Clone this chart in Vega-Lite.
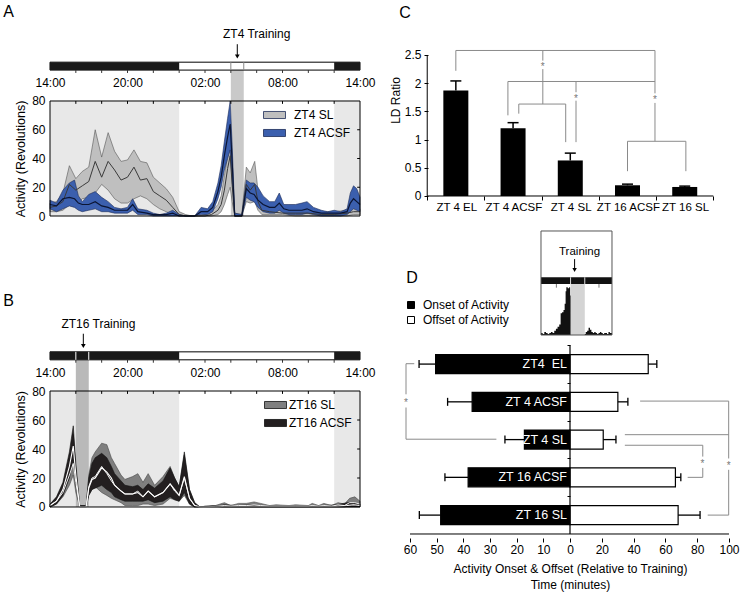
{
"$schema": "https://vega.github.io/schema/vega-lite/v6.json",
"width": 745, "height": 597, "padding": 0,
"autosize": {"type": "none"},
"config": {
 "font": "Liberation Sans",
 "view": {"stroke": null},
 "axis": {"labelFont": "Liberation Sans", "titleFont": "Liberation Sans", "labelFontSize": 12, "titleFontSize": 12.5, "titleFontWeight": "normal", "labelColor": "#000", "titleColor": "#000", "domainColor": "#000", "tickColor": "#000", "grid": false, "labelOverlap": false, "labelBound": false, "labelFlush": false, "domain": false},
 "legend": {"labelFont": "Liberation Sans", "labelFontSize": 12, "labelColor": "#000"}
},
"datasets": {
 "a_dark": [{"start": 0, "end": 10}, {"start": 22, "end": 24}],
 "a_train": [{"start": 14, "end": 15}],
 "b_train": [{"start": 2, "end": 3}],
 "hours": [{"h":2},{"h":4},{"h":6},{"h":8},{"h":10},{"h":12},{"h":14},{"h":16},{"h":18},{"h":20},{"h":22}],
 "levels": [{"v":20},{"v":40},{"v":60}],
 "a_series": [
  {"t":0,"s":"ZT4 SL","lo":3,"m":6,"hi":9},{"t":0.5,"s":"ZT4 SL","lo":3,"m":7,"hi":10},{"t":1,"s":"ZT4 SL","lo":4,"m":10,"hi":16},{"t":1.5,"s":"ZT4 SL","lo":8,"m":22,"hi":35},{"t":2,"s":"ZT4 SL","lo":8,"m":18,"hi":26},{"t":2.5,"s":"ZT4 SL","lo":12,"m":21,"hi":31},{"t":3,"s":"ZT4 SL","lo":13,"m":24,"hi":34},{"t":3.5,"s":"ZT4 SL","lo":16,"m":38,"hi":60},{"t":4,"s":"ZT4 SL","lo":22,"m":27,"hi":41},{"t":4.5,"s":"ZT4 SL","lo":18,"m":38,"hi":58},{"t":5,"s":"ZT4 SL","lo":12,"m":32,"hi":45},{"t":5.5,"s":"ZT4 SL","lo":9,"m":25,"hi":38},{"t":6,"s":"ZT4 SL","lo":9,"m":27,"hi":39},{"t":6.5,"s":"ZT4 SL","lo":12,"m":34,"hi":46},{"t":7,"s":"ZT4 SL","lo":14,"m":25,"hi":38},{"t":7.5,"s":"ZT4 SL","lo":12,"m":26,"hi":37},{"t":8,"s":"ZT4 SL","lo":8,"m":17,"hi":27},{"t":8.5,"s":"ZT4 SL","lo":5,"m":14,"hi":23},{"t":9,"s":"ZT4 SL","lo":3,"m":11,"hi":19},{"t":9.5,"s":"ZT4 SL","lo":1,"m":6,"hi":13},{"t":10,"s":"ZT4 SL","lo":0,"m":1,"hi":3},{"t":10.5,"s":"ZT4 SL","lo":0,"m":0,"hi":1},{"t":11,"s":"ZT4 SL","lo":0,"m":0,"hi":0},{"t":11.5,"s":"ZT4 SL","lo":0,"m":0,"hi":0},{"t":12,"s":"ZT4 SL","lo":0,"m":0,"hi":1},{"t":12.5,"s":"ZT4 SL","lo":0,"m":1,"hi":3},{"t":13,"s":"ZT4 SL","lo":1,"m":4,"hi":8},{"t":13.25,"s":"ZT4 SL","lo":3,"m":8,"hi":14},{"t":13.5,"s":"ZT4 SL","lo":8,"m":18,"hi":28},{"t":13.75,"s":"ZT4 SL","lo":15,"m":33,"hi":42},{"t":13.95,"s":"ZT4 SL","lo":20,"m":42,"hi":47},{"t":14.1,"s":"ZT4 SL","lo":10,"m":22,"hi":32},{"t":14.3,"s":"ZT4 SL","lo":0,"m":0,"hi":2},{"t":14.85,"s":"ZT4 SL","lo":0,"m":0,"hi":1},{"t":15.2,"s":"ZT4 SL","lo":10,"m":22,"hi":34},{"t":15.5,"s":"ZT4 SL","lo":9,"m":18,"hi":30},{"t":15.85,"s":"ZT4 SL","lo":10,"m":22,"hi":38},{"t":16.1,"s":"ZT4 SL","lo":4,"m":10,"hi":18},{"t":16.4,"s":"ZT4 SL","lo":1,"m":4,"hi":8},{"t":17,"s":"ZT4 SL","lo":1,"m":3,"hi":5},{"t":18,"s":"ZT4 SL","lo":1,"m":2,"hi":4},{"t":19,"s":"ZT4 SL","lo":0,"m":2,"hi":4},{"t":20,"s":"ZT4 SL","lo":0,"m":2,"hi":3},{"t":21,"s":"ZT4 SL","lo":0,"m":1,"hi":3},{"t":22,"s":"ZT4 SL","lo":0,"m":1,"hi":3},{"t":23,"s":"ZT4 SL","lo":0,"m":2,"hi":4},{"t":23.5,"s":"ZT4 SL","lo":1,"m":3,"hi":6},{"t":24,"s":"ZT4 SL","lo":1,"m":3,"hi":5},
  {"t":0,"s":"ZT4 ACSF","lo":5,"m":8,"hi":11},{"t":0.5,"s":"ZT4 ACSF","lo":3,"m":7,"hi":9},{"t":1,"s":"ZT4 ACSF","lo":5,"m":12,"hi":18},{"t":1.5,"s":"ZT4 ACSF","lo":7,"m":13,"hi":23},{"t":1.9,"s":"ZT4 ACSF","lo":6,"m":12,"hi":25},{"t":2.2,"s":"ZT4 ACSF","lo":4,"m":9,"hi":14},{"t":2.5,"s":"ZT4 ACSF","lo":3,"m":8,"hi":10},{"t":3,"s":"ZT4 ACSF","lo":4,"m":8,"hi":15},{"t":3.5,"s":"ZT4 ACSF","lo":5,"m":10,"hi":17},{"t":4,"s":"ZT4 ACSF","lo":3,"m":7,"hi":13},{"t":4.5,"s":"ZT4 ACSF","lo":3,"m":6,"hi":10},{"t":5,"s":"ZT4 ACSF","lo":2,"m":4,"hi":6},{"t":5.5,"s":"ZT4 ACSF","lo":2,"m":4,"hi":5},{"t":6,"s":"ZT4 ACSF","lo":2,"m":4,"hi":6},{"t":6.4,"s":"ZT4 ACSF","lo":4,"m":8,"hi":12},{"t":6.8,"s":"ZT4 ACSF","lo":1,"m":3,"hi":5},{"t":7.5,"s":"ZT4 ACSF","lo":1,"m":2,"hi":4},{"t":8,"s":"ZT4 ACSF","lo":0,"m":1,"hi":2},{"t":8.5,"s":"ZT4 ACSF","lo":0,"m":1,"hi":1},{"t":9,"s":"ZT4 ACSF","lo":0,"m":1,"hi":2},{"t":9.5,"s":"ZT4 ACSF","lo":0,"m":2,"hi":4},{"t":10,"s":"ZT4 ACSF","lo":0,"m":0,"hi":1},{"t":10.5,"s":"ZT4 ACSF","lo":0,"m":0,"hi":0},{"t":11.2,"s":"ZT4 ACSF","lo":0,"m":0,"hi":0},{"t":11.7,"s":"ZT4 ACSF","lo":1,"m":3,"hi":6},{"t":12.2,"s":"ZT4 ACSF","lo":1,"m":3,"hi":5},{"t":12.6,"s":"ZT4 ACSF","lo":3,"m":6,"hi":10},{"t":13,"s":"ZT4 ACSF","lo":12,"m":17,"hi":23},{"t":13.25,"s":"ZT4 ACSF","lo":20,"m":27,"hi":35},{"t":13.5,"s":"ZT4 ACSF","lo":32,"m":42,"hi":52},{"t":13.75,"s":"ZT4 ACSF","lo":40,"m":55,"hi":68},{"t":13.95,"s":"ZT4 ACSF","lo":46,"m":64,"hi":80},{"t":14.1,"s":"ZT4 ACSF","lo":25,"m":38,"hi":50},{"t":14.3,"s":"ZT4 ACSF","lo":0,"m":0,"hi":2},{"t":14.85,"s":"ZT4 ACSF","lo":0,"m":0,"hi":1},{"t":15.2,"s":"ZT4 ACSF","lo":13,"m":19,"hi":25},{"t":15.5,"s":"ZT4 ACSF","lo":11,"m":16,"hi":23},{"t":15.8,"s":"ZT4 ACSF","lo":10,"m":15,"hi":23},{"t":16.1,"s":"ZT4 ACSF","lo":6,"m":11,"hi":20},{"t":16.5,"s":"ZT4 ACSF","lo":3,"m":8,"hi":14},{"t":17,"s":"ZT4 ACSF","lo":2,"m":6,"hi":10},{"t":17.4,"s":"ZT4 ACSF","lo":2,"m":6,"hi":10},{"t":17.75,"s":"ZT4 ACSF","lo":4,"m":9,"hi":16},{"t":18.1,"s":"ZT4 ACSF","lo":2,"m":5,"hi":8},{"t":18.5,"s":"ZT4 ACSF","lo":1,"m":4,"hi":8},{"t":19,"s":"ZT4 ACSF","lo":1,"m":4,"hi":8},{"t":19.5,"s":"ZT4 ACSF","lo":1,"m":4,"hi":9},{"t":19.9,"s":"ZT4 ACSF","lo":2,"m":5,"hi":10},{"t":20.4,"s":"ZT4 ACSF","lo":1,"m":3,"hi":6},{"t":21,"s":"ZT4 ACSF","lo":0,"m":2,"hi":4},{"t":21.5,"s":"ZT4 ACSF","lo":0,"m":2,"hi":3},{"t":22,"s":"ZT4 ACSF","lo":0,"m":2,"hi":4},{"t":22.5,"s":"ZT4 ACSF","lo":0,"m":2,"hi":3},{"t":23,"s":"ZT4 ACSF","lo":1,"m":3,"hi":5},{"t":23.25,"s":"ZT4 ACSF","lo":3,"m":9,"hi":16},{"t":23.5,"s":"ZT4 ACSF","lo":5,"m":12,"hi":21},{"t":23.75,"s":"ZT4 ACSF","lo":4,"m":10,"hi":19},{"t":24,"s":"ZT4 ACSF","lo":3,"m":8,"hi":13}
 ],
 "b_series": [
  {"t":0,"s":"ZT16 SL","lo":0,"m":1,"hi":2},{"t":0.5,"s":"ZT16 SL","lo":2,"m":4,"hi":6},{"t":1,"s":"ZT16 SL","lo":7,"m":10,"hi":15},{"t":1.5,"s":"ZT16 SL","lo":15,"m":22,"hi":32},{"t":1.8,"s":"ZT16 SL","lo":22,"m":30,"hi":50},{"t":2,"s":"ZT16 SL","lo":10,"m":17,"hi":26},{"t":2.3,"s":"ZT16 SL","lo":0,"m":0,"hi":1},{"t":2.8,"s":"ZT16 SL","lo":0,"m":0,"hi":1},{"t":3,"s":"ZT16 SL","lo":8,"m":14,"hi":22},{"t":3.25,"s":"ZT16 SL","lo":12,"m":20,"hi":34},{"t":3.5,"s":"ZT16 SL","lo":14,"m":21,"hi":38},{"t":4,"s":"ZT16 SL","lo":10,"m":28,"hi":44},{"t":4.4,"s":"ZT16 SL","lo":8,"m":23,"hi":43},{"t":4.75,"s":"ZT16 SL","lo":6,"m":18,"hi":34},{"t":5,"s":"ZT16 SL","lo":5,"m":15,"hi":30},{"t":5.5,"s":"ZT16 SL","lo":3,"m":11,"hi":22},{"t":5.8,"s":"ZT16 SL","lo":1,"m":9,"hi":19},{"t":6.4,"s":"ZT16 SL","lo":1,"m":9,"hi":21},{"t":6.8,"s":"ZT16 SL","lo":1,"m":11,"hi":23},{"t":7.2,"s":"ZT16 SL","lo":2,"m":7,"hi":17},{"t":7.6,"s":"ZT16 SL","lo":2,"m":11,"hi":23},{"t":8.1,"s":"ZT16 SL","lo":1,"m":7,"hi":15},{"t":8.75,"s":"ZT16 SL","lo":2,"m":10,"hi":21},{"t":9.3,"s":"ZT16 SL","lo":6,"m":16,"hi":28},{"t":9.65,"s":"ZT16 SL","lo":5,"m":11,"hi":20},{"t":10,"s":"ZT16 SL","lo":4,"m":8,"hi":14},{"t":10.4,"s":"ZT16 SL","lo":8,"m":20,"hi":36},{"t":10.8,"s":"ZT16 SL","lo":2,"m":6,"hi":12},{"t":11.2,"s":"ZT16 SL","lo":0,"m":1,"hi":3},{"t":11.6,"s":"ZT16 SL","lo":0,"m":0,"hi":0},{"t":12,"s":"ZT16 SL","lo":0,"m":0,"hi":0.5},{"t":12.8,"s":"ZT16 SL","lo":0,"m":0.5,"hi":1},{"t":13.5,"s":"ZT16 SL","lo":0,"m":1,"hi":3},{"t":14,"s":"ZT16 SL","lo":0,"m":0.5,"hi":1},{"t":14.6,"s":"ZT16 SL","lo":0,"m":1,"hi":2.5},{"t":15.2,"s":"ZT16 SL","lo":0,"m":1,"hi":2.5},{"t":15.8,"s":"ZT16 SL","lo":0,"m":1.5,"hi":3.5},{"t":16.3,"s":"ZT16 SL","lo":0,"m":1,"hi":2.5},{"t":17,"s":"ZT16 SL","lo":0,"m":0.5,"hi":1},{"t":17.5,"s":"ZT16 SL","lo":0,"m":0.5,"hi":1.5},{"t":18.5,"s":"ZT16 SL","lo":0,"m":0.5,"hi":1},{"t":19,"s":"ZT16 SL","lo":0,"m":0.5,"hi":1.5},{"t":20,"s":"ZT16 SL","lo":0,"m":0.5,"hi":1},{"t":20.3,"s":"ZT16 SL","lo":0,"m":1,"hi":2.5},{"t":20.8,"s":"ZT16 SL","lo":0,"m":0.5,"hi":1},{"t":21.2,"s":"ZT16 SL","lo":0,"m":1,"hi":2.5},{"t":21.8,"s":"ZT16 SL","lo":0,"m":0.5,"hi":1},{"t":22.3,"s":"ZT16 SL","lo":0,"m":1.5,"hi":3},{"t":22.8,"s":"ZT16 SL","lo":0,"m":1,"hi":2},{"t":23.2,"s":"ZT16 SL","lo":1,"m":3,"hi":6},{"t":23.6,"s":"ZT16 SL","lo":1,"m":3,"hi":7},{"t":24,"s":"ZT16 SL","lo":1,"m":2,"hi":4},
  {"t":0,"s":"ZT16 ACSF","lo":0,"m":1,"hi":2},{"t":0.5,"s":"ZT16 ACSF","lo":2,"m":4,"hi":7},{"t":1,"s":"ZT16 ACSF","lo":8,"m":12,"hi":17},{"t":1.5,"s":"ZT16 ACSF","lo":20,"m":28,"hi":38},{"t":1.8,"s":"ZT16 ACSF","lo":33,"m":42,"hi":56},{"t":2,"s":"ZT16 ACSF","lo":15,"m":22,"hi":30},{"t":2.3,"s":"ZT16 ACSF","lo":0,"m":0,"hi":1},{"t":2.8,"s":"ZT16 ACSF","lo":0,"m":0,"hi":1},{"t":3,"s":"ZT16 ACSF","lo":8,"m":13,"hi":20},{"t":3.25,"s":"ZT16 ACSF","lo":12,"m":19,"hi":30},{"t":3.5,"s":"ZT16 ACSF","lo":13,"m":20,"hi":34},{"t":4,"s":"ZT16 ACSF","lo":15,"m":27,"hi":37},{"t":4.4,"s":"ZT16 ACSF","lo":12,"m":24,"hi":34},{"t":4.75,"s":"ZT16 ACSF","lo":10,"m":20,"hi":28},{"t":5,"s":"ZT16 ACSF","lo":7,"m":15,"hi":23},{"t":5.5,"s":"ZT16 ACSF","lo":5,"m":11,"hi":18},{"t":5.8,"s":"ZT16 ACSF","lo":4,"m":9,"hi":15},{"t":6.4,"s":"ZT16 ACSF","lo":4,"m":9,"hi":14},{"t":6.8,"s":"ZT16 ACSF","lo":4,"m":10,"hi":15},{"t":7.2,"s":"ZT16 ACSF","lo":4,"m":7,"hi":12},{"t":7.6,"s":"ZT16 ACSF","lo":5,"m":11,"hi":16},{"t":8.1,"s":"ZT16 ACSF","lo":3,"m":7,"hi":13},{"t":8.75,"s":"ZT16 ACSF","lo":4,"m":10,"hi":18},{"t":9.3,"s":"ZT16 ACSF","lo":7,"m":16,"hi":27},{"t":9.65,"s":"ZT16 ACSF","lo":5,"m":12,"hi":20},{"t":10,"s":"ZT16 ACSF","lo":4,"m":8,"hi":14},{"t":10.4,"s":"ZT16 ACSF","lo":10,"m":21,"hi":38},{"t":10.8,"s":"ZT16 ACSF","lo":2,"m":6,"hi":12},{"t":11.2,"s":"ZT16 ACSF","lo":0,"m":1,"hi":3},{"t":11.6,"s":"ZT16 ACSF","lo":0,"m":0,"hi":0},{"t":12,"s":"ZT16 ACSF","lo":0,"m":0,"hi":0.5},{"t":13,"s":"ZT16 ACSF","lo":0,"m":0,"hi":1},{"t":13.5,"s":"ZT16 ACSF","lo":0,"m":0.5,"hi":1.5},{"t":14.5,"s":"ZT16 ACSF","lo":0,"m":0.5,"hi":1},{"t":15.5,"s":"ZT16 ACSF","lo":0,"m":0.5,"hi":1.5},{"t":16.5,"s":"ZT16 ACSF","lo":0,"m":0.5,"hi":1},{"t":18,"s":"ZT16 ACSF","lo":0,"m":0.5,"hi":1},{"t":19.5,"s":"ZT16 ACSF","lo":0,"m":0.5,"hi":1},{"t":21,"s":"ZT16 ACSF","lo":0,"m":0.5,"hi":1},{"t":22.2,"s":"ZT16 ACSF","lo":0,"m":0.5,"hi":1.5},{"t":23,"s":"ZT16 ACSF","lo":0,"m":1,"hi":3},{"t":23.5,"s":"ZT16 ACSF","lo":0,"m":1.5,"hi":3},{"t":24,"s":"ZT16 ACSF","lo":0,"m":1,"hi":2}
 ],
 "c_bars": [
  {"pos":1,"group":"ZT 4 EL","mean":1.87,"upper":2.04},
  {"pos":2,"group":"ZT 4 ACSF","mean":1.2,"upper":1.3},
  {"pos":3,"group":"ZT 4 SL","mean":0.63,"upper":0.76},
  {"pos":4,"group":"ZT 16 ACSF","mean":0.19,"upper":0.21},
  {"pos":5,"group":"ZT 16 SL","mean":0.16,"upper":0.175}
 ],
 "c_lines": [
  {"x1":1.0,"x2":1.0,"y1":2.22,"y2":2.58},
  {"x1":1.0,"x2":4.48,"y1":2.58,"y2":2.58},
  {"x1":4.48,"x2":4.48,"y1":2.58,"y2":1.82},
  {"x1":4.48,"x2":4.48,"y1":1.65,"y2":0.97},
  {"x1":2.52,"x2":2.52,"y1":2.58,"y2":2.40},
  {"x1":2.52,"x2":2.52,"y1":2.25,"y2":1.63},
  {"x1":1.91,"x2":4.48,"y1":2.03,"y2":2.03},
  {"x1":1.91,"x2":1.91,"y1":2.03,"y2":1.43},
  {"x1":3.10,"x2":3.10,"y1":2.03,"y2":1.84},
  {"x1":3.10,"x2":3.10,"y1":1.69,"y2":0.955},
  {"x1":2.10,"x2":2.92,"y1":1.63,"y2":1.63},
  {"x1":2.10,"x2":2.10,"y1":1.63,"y2":1.46},
  {"x1":2.92,"x2":2.92,"y1":1.63,"y2":0.955},
  {"x1":4.0,"x2":5.02,"y1":0.97,"y2":0.97},
  {"x1":4.0,"x2":4.0,"y1":0.97,"y2":0.44},
  {"x1":5.02,"x2":5.02,"y1":0.97,"y2":0.44}
 ],
 "c_stars": [{"x":2.52,"y":2.32},{"x":3.10,"y":1.76},{"x":4.48,"y":1.73}],
 "d_bars": [
  {"row":1,"group":"ZT4\u00a0 EL","kind":"Onset of Activity","value":-50.4,"err":-56.6},
  {"row":1,"group":"ZT4\u00a0 EL","kind":"Offset of Activity","value":49.2,"err":54.6},
  {"row":2,"group":"ZT 4 ACSF","kind":"Onset of Activity","value":-36.7,"err":-45.9},
  {"row":2,"group":"ZT 4 ACSF","kind":"Offset of Activity","value":30.1,"err":36.4},
  {"row":3,"group":"ZT 4 SL","kind":"Onset of Activity","value":-17.1,"err":-24.4},
  {"row":3,"group":"ZT 4 SL","kind":"Offset of Activity","value":20.9,"err":28.9},
  {"row":4,"group":"ZT 16 ACSF","kind":"Onset of Activity","value":-38.2,"err":-46.9},
  {"row":4,"group":"ZT 16 ACSF","kind":"Offset of Activity","value":66.3,"err":69.7},
  {"row":5,"group":"ZT 16 SL","kind":"Onset of Activity","value":-48.5,"err":-56.5},
  {"row":5,"group":"ZT 16 SL","kind":"Offset of Activity","value":68.0,"err":81.8}
 ],
 "d_lines": [
  {"x1":-61.5,"x2":-58.4,"y1":0.99,"y2":0.99},
  {"x1":-61.5,"x2":-61.5,"y1":0.99,"y2":1.8},
  {"x1":-61.5,"x2":-61.5,"y1":2.15,"y2":2.99},
  {"x1":-61.5,"x2":-27.6,"y1":2.99,"y2":2.99},
  {"x1":44.1,"x2":99.8,"y1":1.98,"y2":1.98},
  {"x1":99.8,"x2":99.8,"y1":1.98,"y2":3.5},
  {"x1":99.8,"x2":99.8,"y1":3.8,"y2":5.0},
  {"x1":86.6,"x2":99.8,"y1":5.0,"y2":5.0},
  {"x1":34.5,"x2":99.8,"y1":2.87,"y2":2.87},
  {"x1":34.5,"x2":83.5,"y1":3.15,"y2":3.15},
  {"x1":83.5,"x2":83.5,"y1":3.15,"y2":3.45},
  {"x1":83.5,"x2":83.5,"y1":3.75,"y2":4.0},
  {"x1":74,"x2":83.5,"y1":4.0,"y2":4.0}
 ],
 "d_stars": [{"x":-61.5,"y":1.98},{"x":83.3,"y":3.6},{"x":99.8,"y":3.65}],
 "inset_hist": [{"m":-125,"h":2},{"m":-118,"h":1},{"m":-111,"h":3},{"m":-104,"h":2},{"m":-97,"h":1},{"m":-90,"h":2},{"m":-83,"h":3},{"m":-76,"h":2},{"m":-69,"h":4},{"m":-62,"h":6},{"m":-55,"h":8},{"m":-48,"h":10},{"m":-42,"h":21},{"m":-36,"h":22},{"m":-30,"h":24},{"m":-25,"h":30},{"m":-21,"h":42},{"m":-18,"h":46},{"m":-12,"h":45},{"m":-6,"h":46},{"m":-2,"h":38},{"m":0,"h":0},{"m":60,"h":1},{"m":64,"h":3},{"m":70,"h":4},{"m":76,"h":7},{"m":82,"h":5},{"m":88,"h":3},{"m":94,"h":2},{"m":100,"h":3},{"m":106,"h":2},{"m":112,"h":1},{"m":118,"h":2},{"m":124,"h":3},{"m":130,"h":2},{"m":136,"h":1},{"m":142,"h":2},{"m":148,"h":2},{"m":154,"h":1},{"m":160,"h":3},{"m":166,"h":2},{"m":172,"h":2},{"m":175,"h":1}],
 "inset_train": [{"start":0,"end":60}],
 "inset_ticks": [{"m":-60},{"m":120}]
},
"layer": [
 {"layer": [
  {"data": {"name": "a_dark"}, "mark": {"type": "rect", "fill": "#e8e8e8"},
   "encoding": {"x": {"field": "start", "type": "quantitative", "scale": {"domain": [-3.871, 53.806], "nice": false, "zero": false},
     "axis": {"orient": "top", "offset": -101, "values": [0,6,12,18,24], "labelExpr": "['14:00','20:00','02:00','08:00','14:00'][datum.value / 6]", "ticks": false, "labelPadding": 12, "title": null}},
    "x2": {"field": "end"},
    "y": {"datum": 0, "type": "quantitative", "scale": {"domain": [-265.04, 150.26], "nice": false, "zero": false},
     "axis": {"orient": "left", "offset": -50, "values": [0,20,40,60,80], "title": "Activity (Revolutions)", "ticks": false, "labelPadding": 5, "titleX": -30, "titleY": 158.5, "titleAngle": 270, "titleBaseline": "middle", "titleAlign": "center"}},
    "y2": {"datum": 80}}},
  {"data": {"name": "a_train"}, "mark": {"type": "rect", "fill": "#c9c9c9"},
   "encoding": {"x": {"field": "start", "type": "quantitative"}, "x2": {"field": "end"}, "y": {"datum": 0}, "y2": {"datum": 101.5}}},
  {"data": {"name": "a_series"}, "transform": [{"filter": "datum.s == 'ZT4 SL'"}], "mark": {"type": "area", "stroke": "#555", "strokeWidth": 0.6},
   "encoding": {"x": {"field": "t", "type": "quantitative"}, "y": {"field": "lo", "type": "quantitative"}, "y2": {"field": "hi"},
    "color": {"field": "s", "type": "nominal", "scale": {"domain": ["ZT4 SL", "ZT4 ACSF"], "range": ["#bfbfbf", "#3b5fae"]},
     "legend": {"title": null, "orient": "none", "legendX": 263, "legendY": 103.5, "symbolType": "M-1,-0.32H1V0.32H-1Z", "symbolSize": 484, "labelOffset": 8, "rowPadding": -1, "symbolStrokeColor": "#333", "symbolStrokeWidth": 0.8, "padding": 0, "symbolOpacity": 1}}}},
  {"data": {"name": "a_series"}, "transform": [{"filter": "datum.s == 'ZT4 ACSF'"}], "mark": {"type": "area", "stroke": "#1c2b57", "strokeWidth": 0.6},
   "encoding": {"x": {"field": "t", "type": "quantitative"}, "y": {"field": "lo", "type": "quantitative"}, "y2": {"field": "hi"},
    "color": {"field": "s", "type": "nominal"}}},
  {"data": {"name": "a_series"}, "transform": [{"filter": "datum.s == 'ZT4 SL'"}], "mark": {"type": "line", "color": "#3a3a3a", "strokeWidth": 1},
   "encoding": {"x": {"field": "t", "type": "quantitative"}, "y": {"field": "m", "type": "quantitative"}}},
  {"data": {"name": "a_series"}, "transform": [{"filter": "datum.s == 'ZT4 ACSF'"}], "mark": {"type": "line", "color": "#0b1533", "strokeWidth": 1.2},
   "encoding": {"x": {"field": "t", "type": "quantitative"}, "y": {"field": "m", "type": "quantitative"}}},
  {"data": {"values": [{}]}, "mark": {"type": "rect", "filled": false, "color": "#000", "strokeWidth": 1},
   "encoding": {"x": {"datum": 0}, "x2": {"datum": 24}, "y": {"datum": 0}, "y2": {"datum": 80}}},
  {"data": {"name": "hours"}, "mark": {"type": "rule", "color": "#000", "strokeWidth": 1},
   "encoding": {"x": {"field": "h", "type": "quantitative"}, "y": {"datum": 80}, "y2": {"datum": 78}}},
  {"data": {"name": "levels"}, "mark": {"type": "rule", "color": "#000", "strokeWidth": 1},
   "encoding": {"x": {"datum": 24}, "x2": {"datum": 23.78}, "y": {"field": "v", "type": "quantitative"}}},
  {"data": {"values": [{}]}, "mark": {"type": "rect", "fill": "#fff", "stroke": "#000", "strokeWidth": 1},
   "encoding": {"x": {"datum": 0}, "x2": {"datum": 24}, "y": {"datum": 101.5}, "y2": {"datum": 107}}},
  {"data": {"name": "a_dark"}, "mark": {"type": "rect", "fill": "#1a1a1a"},
   "encoding": {"x": {"field": "start", "type": "quantitative"}, "x2": {"field": "end"}, "y": {"datum": 101.5}, "y2": {"datum": 107}}},
  {"data": {"name": "hours"}, "mark": {"type": "rule", "color": "#333", "strokeWidth": 1},
   "encoding": {"x": {"field": "h", "type": "quantitative"}, "y": {"datum": 101.5}, "y2": {"datum": 99.5}}},
  {"data": {"name": "a_train"}, "mark": {"type": "rule", "color": "#888", "strokeWidth": 1},
   "encoding": {"x": {"field": "start", "type": "quantitative"}, "y": {"datum": 101.5}, "y2": {"datum": 107}}},
  {"data": {"name": "a_train"}, "mark": {"type": "rule", "color": "#888", "strokeWidth": 1},
   "encoding": {"x": {"field": "end", "type": "quantitative"}, "y": {"datum": 101.5}, "y2": {"datum": 107}}},
  {"data": {"values": [{}]}, "mark": {"type": "rule", "color": "#000", "strokeWidth": 1},
   "encoding": {"x": {"datum": 14.5}, "y": {"datum": 119.5}, "y2": {"datum": 111.5}}},
  {"data": {"values": [{}]}, "mark": {"type": "point", "shape": "triangle-down", "filled": true, "color": "#000", "size": 22, "opacity": 1},
   "encoding": {"x": {"datum": 14.5}, "y": {"datum": 111}}},
  {"data": {"values": [{}]}, "mark": {"type": "text", "fontSize": 12, "align": "center", "baseline": "middle", "color": "#000"},
   "encoding": {"x": {"datum": 16.0}, "y": {"datum": 126.3}, "text": {"value": "ZT4 Training"}}},
  {"data": {"values": [{}]}, "mark": {"type": "text", "fontSize": 16, "align": "center", "baseline": "middle", "color": "#000"},
   "encoding": {"x": {"datum": -3.2}, "y": {"datum": 142}, "text": {"value": "A"}}}
 ]},
 {"layer": [
  {"data": {"name": "a_dark"}, "mark": {"type": "rect", "fill": "#e8e8e8"},
   "encoding": {"x": {"field": "start", "type": "quantitative", "scale": {"domain": [-3.871, 53.806], "nice": false, "zero": false},
     "axis": {"orient": "top", "offset": -391, "values": [0,6,12,18,24], "labelExpr": "['14:00','20:00','02:00','08:00','14:00'][datum.value / 6]", "ticks": false, "labelPadding": 12, "title": null}},
    "x2": {"field": "end"},
    "y": {"datum": 0, "type": "quantitative", "scale": {"domain": [-62.07, 349.66], "nice": false, "zero": false},
     "axis": {"orient": "left", "offset": -50, "values": [0,20,40,60,80], "title": "Activity (Revolutions)", "ticks": false, "labelPadding": 5, "titleX": -30, "titleY": 449, "titleAngle": 270, "titleBaseline": "middle", "titleAlign": "center"}},
    "y2": {"datum": 80}}},
  {"data": {"name": "b_train"}, "mark": {"type": "rect", "fill": "#b9b9b9"},
   "encoding": {"x": {"field": "start", "type": "quantitative"}, "x2": {"field": "end"}, "y": {"datum": 0}, "y2": {"datum": 101.5}}},
  {"data": {"name": "b_series"}, "transform": [{"filter": "datum.s == 'ZT16 SL'"}], "mark": {"type": "area", "stroke": "#444", "strokeWidth": 0.6},
   "encoding": {"x": {"field": "t", "type": "quantitative"}, "y": {"field": "lo", "type": "quantitative"}, "y2": {"field": "hi"},
    "color": {"field": "s", "type": "nominal", "scale": {"domain": ["ZT16 SL", "ZT16 ACSF"], "range": ["#7f7f7f", "#231f20"]},
     "legend": {"title": null, "orient": "none", "legendX": 264, "legendY": 393.5, "symbolType": "M-1,-0.32H1V0.32H-1Z", "symbolSize": 484, "labelOffset": 2, "rowPadding": -0.5, "symbolStrokeColor": "#333", "symbolStrokeWidth": 0.8, "padding": 0, "symbolOpacity": 1}}}},
  {"data": {"name": "b_series"}, "transform": [{"filter": "datum.s == 'ZT16 ACSF'"}], "mark": {"type": "area", "stroke": "#111", "strokeWidth": 0.6},
   "encoding": {"x": {"field": "t", "type": "quantitative"}, "y": {"field": "lo", "type": "quantitative"}, "y2": {"field": "hi"},
    "color": {"field": "s", "type": "nominal"}}},
  {"data": {"name": "b_series"}, "transform": [{"filter": "datum.s == 'ZT16 SL'"}], "mark": {"type": "line", "color": "#f0f0f0", "strokeWidth": 1},
   "encoding": {"x": {"field": "t", "type": "quantitative"}, "y": {"field": "m", "type": "quantitative"}}},
  {"data": {"name": "b_series"}, "transform": [{"filter": "datum.s == 'ZT16 ACSF'"}], "mark": {"type": "line", "color": "#ffffff", "strokeWidth": 1.1},
   "encoding": {"x": {"field": "t", "type": "quantitative"}, "y": {"field": "m", "type": "quantitative"}}},
  {"data": {"values": [{}]}, "mark": {"type": "rect", "filled": false, "color": "#000", "strokeWidth": 1},
   "encoding": {"x": {"datum": 0}, "x2": {"datum": 24}, "y": {"datum": 0}, "y2": {"datum": 80}}},
  {"data": {"name": "hours"}, "mark": {"type": "rule", "color": "#000", "strokeWidth": 1},
   "encoding": {"x": {"field": "h", "type": "quantitative"}, "y": {"datum": 80}, "y2": {"datum": 78}}},
  {"data": {"name": "levels"}, "mark": {"type": "rule", "color": "#000", "strokeWidth": 1},
   "encoding": {"x": {"datum": 24}, "x2": {"datum": 23.78}, "y": {"field": "v", "type": "quantitative"}}},
  {"data": {"values": [{}]}, "mark": {"type": "rect", "fill": "#fff", "stroke": "#000", "strokeWidth": 1},
   "encoding": {"x": {"datum": 0}, "x2": {"datum": 24}, "y": {"datum": 101.5}, "y2": {"datum": 107}}},
  {"data": {"name": "a_dark"}, "mark": {"type": "rect", "fill": "#1a1a1a"},
   "encoding": {"x": {"field": "start", "type": "quantitative"}, "x2": {"field": "end"}, "y": {"datum": 101.5}, "y2": {"datum": 107}}},
  {"data": {"name": "hours"}, "mark": {"type": "rule", "color": "#333", "strokeWidth": 1},
   "encoding": {"x": {"field": "h", "type": "quantitative"}, "y": {"datum": 101.5}, "y2": {"datum": 99.5}}},
  {"data": {"name": "b_train"}, "mark": {"type": "rule", "color": "#fff", "strokeWidth": 1},
   "encoding": {"x": {"field": "start", "type": "quantitative"}, "y": {"datum": 101.5}, "y2": {"datum": 107}}},
  {"data": {"name": "b_train"}, "mark": {"type": "rule", "color": "#fff", "strokeWidth": 1},
   "encoding": {"x": {"field": "end", "type": "quantitative"}, "y": {"datum": 101.5}, "y2": {"datum": 107}}},
  {"data": {"values": [{}]}, "mark": {"type": "rule", "color": "#000", "strokeWidth": 1},
   "encoding": {"x": {"datum": 2.58}, "y": {"datum": 119.5}, "y2": {"datum": 111.5}}},
  {"data": {"values": [{}]}, "mark": {"type": "point", "shape": "triangle-down", "filled": true, "color": "#000", "size": 22, "opacity": 1},
   "encoding": {"x": {"datum": 2.58}, "y": {"datum": 111}}},
  {"data": {"values": [{}]}, "mark": {"type": "text", "fontSize": 12, "align": "center", "baseline": "middle", "color": "#000"},
   "encoding": {"x": {"datum": 3.75}, "y": {"datum": 126.3}, "text": {"value": "ZT16 Training"}}},
  {"data": {"values": [{}]}, "mark": {"type": "text", "fontSize": 16, "align": "center", "baseline": "middle", "color": "#000"},
   "encoding": {"x": {"datum": -3.2}, "y": {"datum": 142}, "text": {"value": "B"}}}
 ]},
 {"layer": [
  {"data": {"name": "c_bars"}, "mark": {"type": "bar", "orient": "vertical", "width": 25, "color": "#000"},
   "encoding": {"x": {"field": "pos", "type": "quantitative", "scale": {"domain": [-6.879, 5.966], "nice": false, "zero": false},
     "axis": {"orient": "bottom", "offset": -401, "values": [0.5,1.5,2.5,3.5,4.5,5.5], "labelExpr": "['ZT 4 EL','ZT 4 ACSF','ZT 4 SL','ZT 16 ACSF','ZT 16 SL',''][floor(datum.value)]", "labelOffset": 29, "tickSize": 4, "labelPadding": 1, "labelFontSize": 11.5, "title": null}},
    "y": {"field": "mean", "type": "quantitative", "scale": {"domain": [-7.110, 3.475], "nice": false, "zero": false},
     "axis": {"orient": "left", "offset": -428, "values": [0,0.5,1,1.5,2,2.5], "format": "~g", "tickSize": 4, "labelPadding": 3, "title": "LD Ratio", "titleFontSize": 12, "titleX": -33, "titleY": 100, "titleBaseline": "middle", "titleAlign": "center", "titleAngle": 270}},
    "y2": {"datum": 0}}},
  {"data": {"values": [{}]}, "mark": {"type": "rule", "color": "#000", "strokeWidth": 1},
   "encoding": {"x": {"datum": 0.5}, "x2": {"datum": 5.5}, "y": {"datum": 0}}},
  {"data": {"values": [{}]}, "mark": {"type": "rule", "color": "#000", "strokeWidth": 1},
   "encoding": {"x": {"datum": 0.5}, "y": {"datum": 0}, "y2": {"datum": 2.5}}},
  {"data": {"name": "c_bars"}, "mark": {"type": "rule", "color": "#000", "strokeWidth": 1.5},
   "encoding": {"x": {"field": "pos", "type": "quantitative"}, "y": {"field": "mean", "type": "quantitative"}, "y2": {"field": "upper"}}},
  {"data": {"name": "c_bars"}, "mark": {"type": "tick", "orient": "horizontal", "size": 11, "thickness": 1.5, "color": "#000", "opacity": 1},
   "encoding": {"x": {"field": "pos", "type": "quantitative"}, "y": {"field": "upper", "type": "quantitative"}}},
  {"data": {"name": "c_lines"}, "mark": {"type": "rule", "color": "#8a8a8a", "strokeWidth": 1},
   "encoding": {"x": {"field": "x1", "type": "quantitative"}, "x2": {"field": "x2"}, "y": {"field": "y1", "type": "quantitative"}, "y2": {"field": "y2"}}},
  {"data": {"name": "c_stars"}, "mark": {"type": "text", "fontSize": 10, "color": "#777", "align": "center", "baseline": "middle", "dy": 2},
   "encoding": {"x": {"field": "x", "type": "quantitative"}, "y": {"field": "y", "type": "quantitative"}, "text": {"value": "*"}}},
  {"data": {"values": [{}]}, "mark": {"type": "text", "fontSize": 16, "align": "center", "baseline": "middle", "color": "#000"},
   "encoding": {"x": {"datum": 0.11}, "y": {"datum": 3.24}, "text": {"value": "C"}}}
 ]},
 {"layer": [
  {"data": {"name": "inset_train"}, "mark": {"type": "rect", "fill": "#d4d4d4"},
   "encoding": {"x": {"field": "start", "type": "quantitative", "scale": {"domain": [-2410.9, 737.0], "nice": false, "zero": false}, "axis": null},
    "x2": {"field": "end"},
    "y": {"datum": 0, "type": "quantitative", "scale": {"domain": [-251.9, 322.1], "nice": false, "zero": false}, "axis": null}, "y2": {"datum": 49}}},
  {"data": {"name": "inset_hist"}, "mark": {"type": "area", "interpolate": "step-after", "color": "#111"},
   "encoding": {"x": {"field": "m", "type": "quantitative"}, "y": {"field": "h", "type": "quantitative"}, "y2": {"datum": 0}}},
  {"data": {"values": [{}]}, "mark": {"type": "rect", "fill": "#111"},
   "encoding": {"x": {"datum": -125}, "x2": {"datum": 175}, "y": {"datum": 49}, "y2": {"datum": 55.5}}},
  {"data": {"name": "inset_ticks"}, "mark": {"type": "rule", "color": "#777", "strokeWidth": 1},
   "encoding": {"x": {"field": "m", "type": "quantitative"}, "y": {"datum": 49}, "y2": {"datum": 45.5}}},
  {"data": {"name": "inset_train"}, "mark": {"type": "rule", "color": "#ddd", "strokeWidth": 1},
   "encoding": {"x": {"field": "start", "type": "quantitative"}, "y": {"datum": 49}, "y2": {"datum": 55.5}}},
  {"data": {"name": "inset_train"}, "mark": {"type": "rule", "color": "#ddd", "strokeWidth": 1},
   "encoding": {"x": {"field": "end", "type": "quantitative"}, "y": {"datum": 49}, "y2": {"datum": 55.5}}},
  {"data": {"values": [{}]}, "mark": {"type": "rect", "filled": false, "color": "#555", "strokeWidth": 1},
   "encoding": {"x": {"datum": -125}, "x2": {"datum": 175}, "y": {"datum": 0}, "y2": {"datum": 100}}},
  {"data": {"values": [{}]}, "mark": {"type": "rule", "color": "#000", "strokeWidth": 1},
   "encoding": {"x": {"datum": 17}, "y": {"datum": 73}, "y2": {"datum": 63}}},
  {"data": {"values": [{}]}, "mark": {"type": "point", "shape": "triangle-down", "filled": true, "color": "#000", "size": 20, "opacity": 1},
   "encoding": {"x": {"datum": 17}, "y": {"datum": 62.5}}},
  {"data": {"values": [{}]}, "mark": {"type": "text", "fontSize": 11.5, "align": "center", "baseline": "middle", "color": "#000"},
   "encoding": {"x": {"datum": 38}, "y": {"datum": 80}, "text": {"value": "Training"}}}
 ]},
 {"layer": [
  {"data": {"name": "d_bars"}, "mark": {"type": "bar", "height": 19, "stroke": "#000", "strokeWidth": 1.2},
   "encoding": {"x": {"field": "value", "type": "quantitative", "scale": {"domain": [-213.75, 0, 110.06], "range": [0, 570, 745], "nice": false, "zero": false},
     "axis": {"orient": "bottom", "offset": -59, "values": [-60,-50,-40,-30,-20,-10,0,20,40,60,80,100], "labelExpr": "'' + abs(datum.value)", "tickSize": 4, "labelPadding": 2, "title": ["Activity Onset & Offset (Relative to Training)", "Time (minutes)"], "titleFontSize": 12, "titleX": 570, "titleY": 25, "titleBaseline": "top", "titleAlign": "center", "titleLineHeight": 16}},
    "x2": {"datum": 0},
    "y": {"field": "row", "type": "quantitative", "scale": {"domain": [-8.5104, 7.0365], "reverse": true, "nice": false, "zero": false},
     "axis": {"orient": "left", "offset": -570, "values": [0.5,1.5,2.5,3.5,4.5], "labels": false, "tickSize": 3, "title": null}},
    "color": {"field": "kind", "type": "nominal", "scale": {"domain": ["Onset of Activity", "Offset of Activity"], "range": ["#000000", "#ffffff"]},
     "legend": {"title": null, "orient": "none", "legendX": 405, "legendY": 299, "symbolType": "square", "symbolSize": 49, "symbolStrokeColor": "#000", "symbolStrokeWidth": 1, "labelOffset": 6, "rowPadding": 3, "padding": 0, "symbolOpacity": 1}}}},
  {"data": {"values": [{}]}, "mark": {"type": "rule", "color": "#000", "strokeWidth": 1},
   "encoding": {"x": {"datum": -60}, "x2": {"datum": 100}, "y": {"datum": 5.5}}},
  {"data": {"values": [{}]}, "mark": {"type": "rule", "color": "#000", "strokeWidth": 1.2},
   "encoding": {"x": {"datum": 0}, "y": {"datum": 0.5}, "y2": {"datum": 5.5}}},
  {"data": {"name": "d_bars"}, "mark": {"type": "rule", "color": "#000", "strokeWidth": 1.3},
   "encoding": {"x": {"field": "value", "type": "quantitative"}, "x2": {"field": "err"}, "y": {"field": "row", "type": "quantitative"}}},
  {"data": {"name": "d_bars"}, "mark": {"type": "tick", "orient": "vertical", "size": 8, "thickness": 1.3, "color": "#000", "opacity": 1},
   "encoding": {"x": {"field": "err", "type": "quantitative"}, "y": {"field": "row", "type": "quantitative"}}},
  {"data": {"name": "d_bars"}, "transform": [{"filter": "datum.kind == 'Onset of Activity'"}], "mark": {"type": "text", "fontSize": 12.5, "color": "#fff", "align": "right", "baseline": "middle", "dx": -3},
   "encoding": {"x": {"datum": 0}, "y": {"field": "row", "type": "quantitative"}, "text": {"field": "group"}}},
  {"data": {"name": "d_lines"}, "mark": {"type": "rule", "color": "#8a8a8a", "strokeWidth": 1},
   "encoding": {"x": {"field": "x1", "type": "quantitative"}, "x2": {"field": "x2"}, "y": {"field": "y1", "type": "quantitative"}, "y2": {"field": "y2"}}},
  {"data": {"name": "d_stars"}, "mark": {"type": "text", "fontSize": 10, "color": "#777", "align": "center", "baseline": "middle", "dy": 2},
   "encoding": {"x": {"field": "x", "type": "quantitative"}, "y": {"field": "y", "type": "quantitative"}, "text": {"value": "*"}}},
  {"data": {"values": [{}]}, "mark": {"type": "text", "fontSize": 16, "align": "center", "baseline": "middle", "color": "#000"},
   "encoding": {"x": {"datum": -59.2}, "y": {"datum": -1.28}, "text": {"value": "D"}}}
 ]}
],
"resolve": {"scale": {"x": "independent", "y": "independent", "color": "independent"}, "axis": {"x": "independent", "y": "independent"}, "legend": {"color": "independent"}}
}
